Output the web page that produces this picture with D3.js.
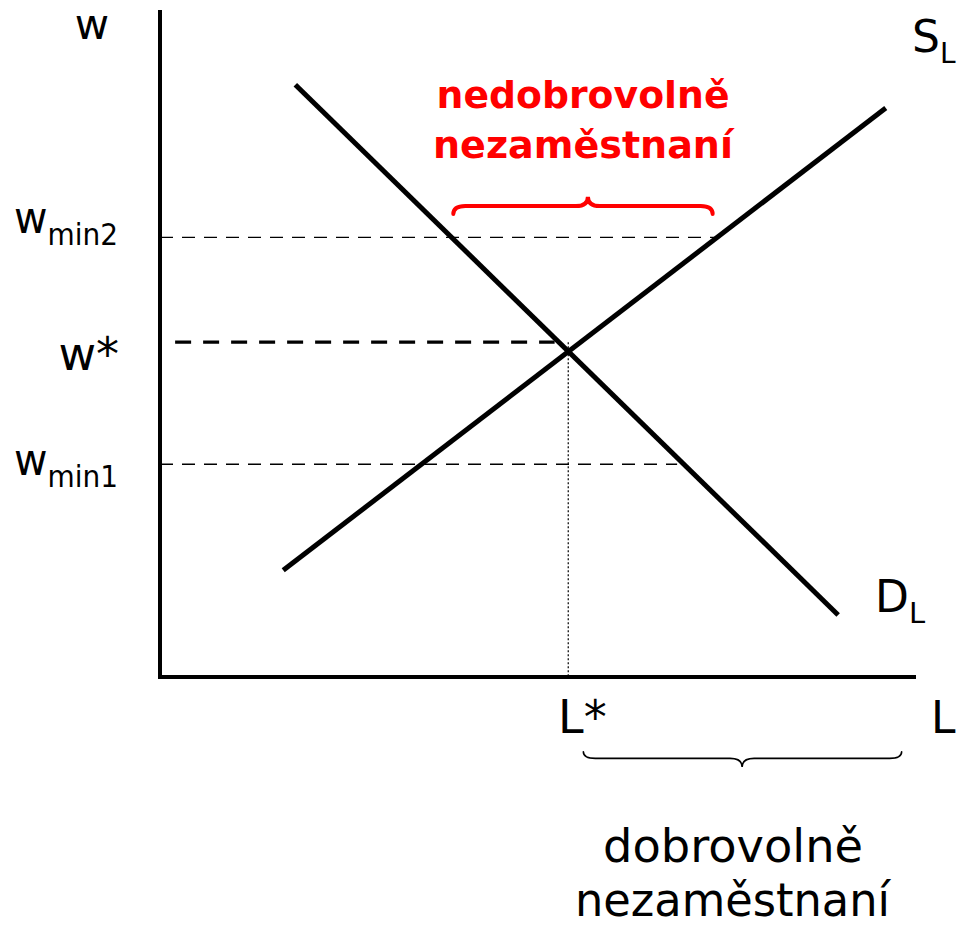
<!DOCTYPE html>
<html>
<head>
<meta charset="utf-8">
<script src="https://cdn.jsdelivr.net/npm/d3@7"></script>
<style>
  html, body { margin: 0; padding: 0; background: #fff; }
  svg { display: block; }
</style>
</head>
<body>
<svg id="chart" width="957" height="928"></svg>
<script>
// ---------- data (in chart units: L on x, w on y) ----------
const supplyCurve = [[16.3, 16.0], [96.0, 85.3]];
const demandCurve = [[17.9, 88.8], [89.7, 9.3]];
const wStar = 50.2;
const lStar = 54.0;
const wMin2 = 65.9;
const wMin1 = 31.9;
const wMin2End = 73.4;
const wMin1End = 68.4;
const wStarStart = 2.0;
const wStarEnd = 52.2;
// braces: [L start, L middle, L end, w ends, w bar, w tip]
const involuntaryBrace = [38.8, 56.6, 73.1, 69.4, 70.6, 72.0];
const voluntaryBrace = [56.0, 77.0, 98.1, -11.2, -12.2, -13.5];
const redLabel = ["nedobrovolně", "nezaměstnaní"];
const blackLabel = ["dobrovolně", "nezaměstnaní"];

// ---------- scales ----------
const x = d3.scaleLinear().domain([0, 100]).range([160, 916]);
const y = d3.scaleLinear().domain([0, 100]).range([677, 10]);

const svg = d3.select("#chart");
const font = "'DejaVu Sans', Verdana, sans-serif";

// axes
svg.append("line").attr("x1", x(0)).attr("x2", x(0)).attr("y1", y(100)).attr("y2", y(0) + 2)
  .attr("stroke", "#000").attr("stroke-width", 4);
svg.append("line").attr("x1", x(0) - 2).attr("x2", x(100)).attr("y1", y(0)).attr("y2", y(0))
  .attr("stroke", "#000").attr("stroke-width", 4);

// guide lines
svg.append("line").attr("x1", x(0)).attr("x2", x(wMin2End)).attr("y1", y(wMin2)).attr("y2", y(wMin2))
  .attr("stroke", "#000").attr("stroke-width", 1.3).attr("stroke-dasharray", "13,9");
svg.append("line").attr("x1", x(0)).attr("x2", x(wMin1End)).attr("y1", y(wMin1)).attr("y2", y(wMin1))
  .attr("stroke", "#000").attr("stroke-width", 1.3).attr("stroke-dasharray", "13,9");
svg.append("line").attr("x1", x(wStarStart)).attr("x2", x(wStarEnd)).attr("y1", y(wStar)).attr("y2", y(wStar))
  .attr("stroke", "#000").attr("stroke-width", 3.2).attr("stroke-dasharray", "16,12");
svg.append("line").attr("x1", x(lStar)).attr("x2", x(lStar)).attr("y1", y(wStar)).attr("y2", y(0))
  .attr("stroke", "#000").attr("stroke-width", 1.2).attr("stroke-dasharray", "2,2");

// curves
const line = d3.line().x(d => x(d[0])).y(d => y(d[1]));
svg.append("path").attr("d", line(supplyCurve)).attr("fill", "none")
  .attr("stroke", "#000").attr("stroke-width", 5);
svg.append("path").attr("d", line(demandCurve)).attr("fill", "none")
  .attr("stroke", "#000").attr("stroke-width", 5);

// braces
function brace(b) {
  const [l1, lm, l2, we, wb, wt] = b;
  const x1 = x(l1), xm = x(lm), x2 = x(l2);
  const ye = y(we), yb = y(wb), yt = y(wt);
  const r = 12;
  const p = d3.path();
  p.moveTo(x1, ye);
  p.quadraticCurveTo(x1, yb, x1 + r, yb);
  p.lineTo(xm - r, yb);
  p.quadraticCurveTo(xm, yb, xm, yt);
  p.quadraticCurveTo(xm, yb, xm + r, yb);
  p.lineTo(x2 - r, yb);
  p.quadraticCurveTo(x2, yb, x2, ye);
  return p.toString();
}
svg.append("path").attr("d", brace(involuntaryBrace)).attr("fill", "none")
  .attr("stroke", "#ff0000").attr("stroke-width", 4).attr("stroke-linecap", "round");
svg.append("path").attr("d", brace(voluntaryBrace)).attr("fill", "none")
  .attr("stroke", "#000").attr("stroke-width", 1.6).attr("stroke-linecap", "round");

// labels
function label(txt, xp, yp, size, anchor, sub, subSize, subDy) {
  const t = svg.append("text").attr("x", xp).attr("y", yp)
    .attr("font-family", font).attr("font-size", size).attr("text-anchor", anchor).attr("fill", "#000");
  t.append("tspan").text(txt);
  if (sub) t.append("tspan").attr("font-size", subSize).attr("dy", subDy).text(sub);
  return t;
}
label("w", 92, 39, 42, "middle");
label("L", 931, 733, 44, "start");
label("S", 912, 52, 44, "start", "L", 28, 11);
label("D", 875, 612, 44, "start", "L", 29, 11);
label("L*", 558, 733, 46, "start");
label("w*", 119, y(wStar) + 28, 46, "end");
label("w", 118, y(wMin2) - 4, 44, "end", "min2", 30, 12)
  .attr("textLength", 104).attr("lengthAdjust", "spacingAndGlyphs");
label("w", 118, y(wMin1) + 11, 44, "end", "min1", 30, 12)
  .attr("textLength", 104).attr("lengthAdjust", "spacingAndGlyphs");

// two-line annotations, each as one text element
const redY = [108, 158], redW = [293, 300];
const redT = svg.append("text").attr("font-family", font).attr("font-weight", "bold")
  .attr("font-size", 38).attr("fill", "#ff0000");
redLabel.forEach((s, i) => {
  redT.append("tspan").attr("x", 583 - redW[i] / 2).attr("y", redY[i])
    .attr("textLength", redW[i]).attr("lengthAdjust", "spacingAndGlyphs").text(s);
});
const blkY = [862, 916], blkW = [260, 315], blkX = [603, 575];
const blkT = svg.append("text").attr("font-family", font).attr("font-size", 46).attr("fill", "#000");
blackLabel.forEach((s, i) => {
  blkT.append("tspan").attr("x", blkX[i]).attr("y", blkY[i])
    .attr("textLength", blkW[i]).attr("lengthAdjust", "spacingAndGlyphs").text(s);
});
</script>
</body>
</html>
